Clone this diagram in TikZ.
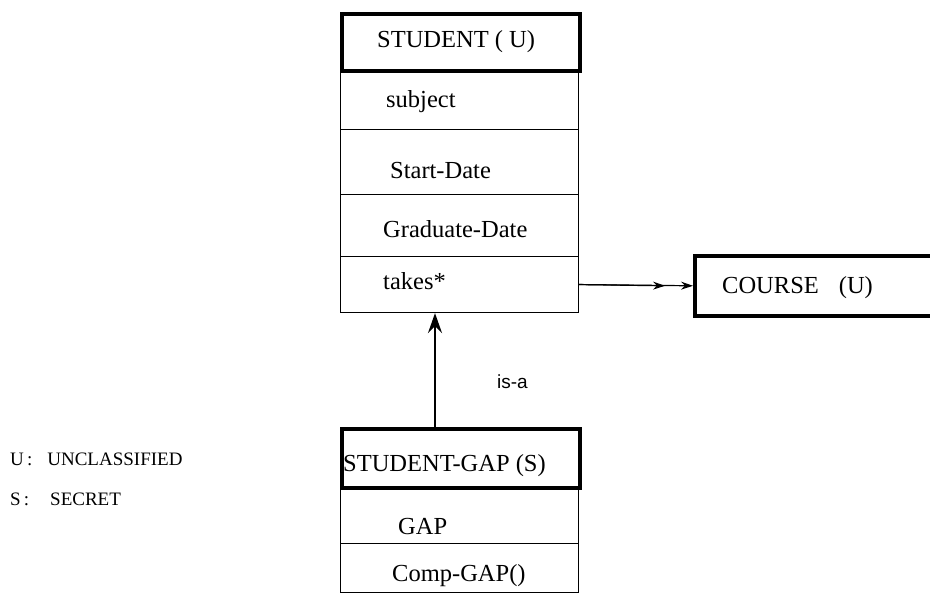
\documentclass[tikz,border=0pt]{standalone}
\usepackage{fontspec}
\setmainfont{Liberation Serif}
\newfontfamily\isafont{Liberation Sans}
\usetikzlibrary{arrows.meta}
\begin{document}
\begin{tikzpicture}[x=1pt,y=-1pt,
  rowbox/.style={draw,line width=1.1pt,inner sep=0pt,anchor=north west,minimum width=238pt},
  hdrbox/.style={draw,line width=3.6pt,inner sep=0pt,anchor=north west,minimum width=238pt},
  txt/.style={anchor=base west,inner sep=0pt,font=\fontsize{24.5}{28}\selectfont},
  legend/.style={anchor=base west,inner sep=0pt,font=\fontsize{19}{22}\selectfont},
  tip/.style={-{Stealth[length=12pt,width=8pt,inset=4pt]}}]
\useasboundingbox (0,0) rectangle (930,594);
\clip (0,0) rectangle (930,594);
% STUDENT class
\node[rowbox,minimum height=60pt] (r1) at (340,69) {};
\node[rowbox,minimum height=65pt] (r2) at (340,129) {};
\node[rowbox,minimum height=62pt] (r3) at (340,194) {};
\node[rowbox,minimum height=56pt] (r4) at (340,256) {};
\node[hdrbox,minimum height=57pt] (sh) at (340,12) {};
\node[txt] (tsh) at (377,48) {STUDENT ( U)};
\node[txt] (tr1) at (386,108) {subject};
\node[txt] (tr2) at (390,178) {Start-Date};
\node[txt] (tr3) at (383,237) {Graduate-Date};
\node[txt] (tr4) at (383,289) {takes*};
% COURSE
\node[hdrbox,minimum width=270pt,minimum height=60pt] (course) at (693,254) {};
\node[txt] (tc) at (722,293) {COURSE\hspace{20pt}(U)};
% STUDENT-GAP class
\node[rowbox,minimum height=57pt] (g1) at (340,486) {};
\node[rowbox,minimum height=49pt] (g2) at (340,543) {};
\node[hdrbox,minimum height=59pt] (gh) at (340,427) {};
\node[txt] (tgh) at (343,471) {STUDENT-GAP (S)};
\node[txt] (tg1) at (398,534) {GAP};
\node[txt] (tg2) at (392,581) {Comp-GAP()};
% connectors
\draw[line width=1.2pt,tip] (r4.east) -- (course.west);
\draw[line width=1.2pt,tip] (r4.east) -- ([xshift=-28pt]course.west);
\coordinate (isafoot) at (435,427);
\draw[line width=2.8pt,-{Stealth[length=20pt,width=14pt,inset=7pt]}] (isafoot) -- (isafoot |- r4.south);
\node[anchor=base west,inner sep=0pt,font=\isafont\fontsize{19}{22}\selectfont] (isa) at (497,388) {is-a};
% legend
\node[legend] (lu) at (10,465) {U\,:\hspace{15pt}UNCLASSIFIED};
\node[legend] (ls) at (10,505) {S\,:\hspace{21pt}SECRET};
\end{tikzpicture}
\end{document}
